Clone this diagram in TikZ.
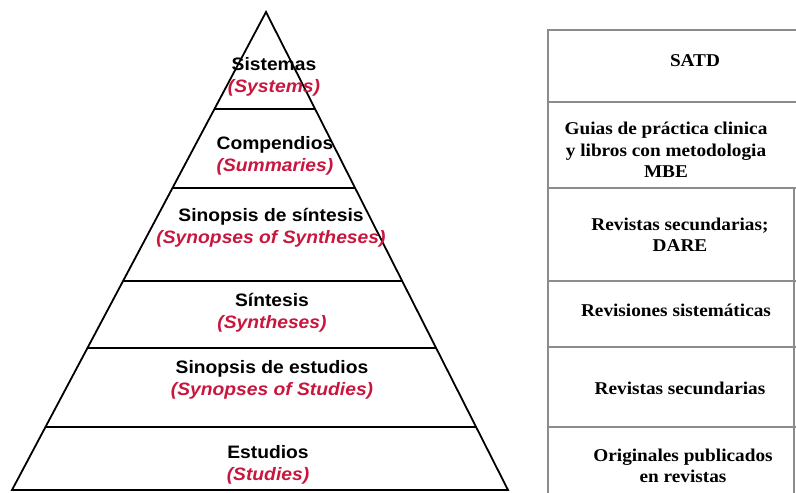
\documentclass[tikz,border=0pt]{standalone}
\usepackage{fontspec}
\setmainfont{Liberation Serif}[FakeStretch=1.07]
\newfontfamily\arialfont{Liberation Sans}[FakeStretch=1.07]
\usetikzlibrary{calc}
\definecolor{tierred}{RGB}{200,22,62}
\definecolor{tablegray}{RGB}{140,140,140}
\tikzset{
  pyr/.style={draw=black, line width=1.8pt, line join=miter},
  tierline/.style={draw=black, line width=1.8pt},
  tablerule/.style={draw=tablegray, line width=1.4pt},
  tier/.style={align=center, inner sep=0pt, font=\arialfont\bfseries\fontsize{18}{22}\selectfont},
  cell/.style={align=center, inner sep=0pt, font=\bfseries\fontsize{18}{21.5}\selectfont},
}
\newcommand{\eng}[1]{{\color{tierred}\itshape #1}}
\begin{document}
\begin{tikzpicture}[x=1pt,y=-1pt]
\useasboundingbox (0,0) rectangle (796,493);
% pyramid
\coordinate (apex) at (266,12);
\coordinate (bl) at (12,490);
\coordinate (br) at (508,490);
\draw[pyr] (apex) -- (bl) -- (br) -- cycle;
\foreach \t in {0.2029,0.3682,0.5628,0.7029,0.8682}{
  \draw[tierline] ($(apex)!\t!(bl)$) -- ($(apex)!\t!(br)$);
}
% tier labels
\node[tier] (t1) at (274,77) {Sistemas\\\eng{(Systems)}};
\node[tier] (t2) at (275,156) {Compendios\\\eng{(Summaries)}};
\node[tier] (t3) at (271,228) {Sinopsis de síntesis\\\eng{(Synopses of Syntheses)}};
\node[tier] (t4) at (272,313) {Síntesis\\\eng{(Syntheses)}};
\node[tier] (t5) at (272,380) {Sinopsis de estudios\\\eng{(Synopses of Studies)}};
\node[tier] (t6) at (268,465) {Estudios\\\eng{(Studies)}};
% table
\coordinate (tl) at (548,30);
\coordinate (tr) at (796,30);
\coordinate (lb) at (548,493);
\draw[tablerule] (tr) -- (tl) -- (lb);
\draw[tablerule] (794,188) -- (794,493);
\foreach \y in {102,188,281,347,427}{
  \draw[tablerule] (548,\y) -- (796,\y);
}
\node[cell] (c1) at (695,61) {SATD};
\node[cell] (c2) at (666,150) {Guias de práctica clinica\\y libros con metodologia\\MBE};
\node[cell] (c3) at (680,235) {Revistas secundarias;\\DARE};
\node[cell] (c4) at (676,310) {Revisiones sistemáticas};
\node[cell] (c5) at (680,388) {Revistas secundarias};
\node[cell] (c6) at (683,466) {Originales publicados\\en revistas};
\end{tikzpicture}
\end{document}
